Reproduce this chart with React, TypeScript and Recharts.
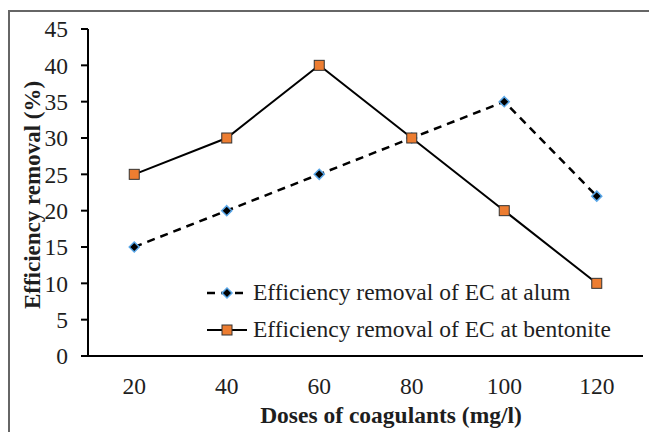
import { LineChart, Line, XAxis, YAxis, Legend, Label } from "recharts";

const doses = [20, 40, 60, 80, 100, 120];
const alum = [15, 20, 25, 30, 35, 22];
const bentonite = [25, 30, 40, 30, 20, 10];
const yTicks = [0, 5, 10, 15, 20, 25, 30, 35, 40, 45];
const bandEdges = [10, 30, 50, 70, 90, 110, 130];

const alumName = "Efficiency removal of EC at alum";
const bentoniteName = "Efficiency removal of EC at bentonite";

const data = doses.map((d, i) => ({ dose: d, alum: alum[i], bentonite: bentonite[i] }));

const FONT = "'Liberation Serif', 'Times New Roman', serif";
const TEXT = "#1e1e1e";

const Diamond = (props: any) => {
  const { cx, cy, index } = props;
  if (cx == null || cy == null) return <g key={`d-${index}`} />;
  const r = 5;
  return (
    <polygon
      key={`d-${index}`}
      points={`${cx},${cy - r} ${cx + r},${cy} ${cx},${cy + r} ${cx - r},${cy}`}
      fill="#000"
      stroke="#5aa7e8"
      strokeWidth={1.5}
    />
  );
};

const Square = (props: any) => {
  const { cx, cy, index } = props;
  if (cx == null || cy == null) return <g key={`s-${index}`} />;
  return (
    <rect
      key={`s-${index}`}
      x={cx - 5}
      y={cy - 5}
      width={10}
      height={10}
      fill="#ED7D31"
      stroke="#333"
      strokeWidth={1}
    />
  );
};

const renderLegend = () => (
  <div style={{ fontFamily: FONT, fontSize: 23.5, color: TEXT, lineHeight: "37px" }}>
    <div style={{ display: "flex", alignItems: "center" }}>
      <svg width={42} height={20}>
        <line x1={1} y1={10} x2={41} y2={10} stroke="#000" strokeWidth={2.5} strokeDasharray="8 6" />
        <polygon points="21,5 26,10 21,15 16,10" fill="#000" stroke="#5aa7e8" strokeWidth={1.5} />
      </svg>
      <span style={{ marginLeft: 5 }}>{alumName}</span>
    </div>
    <div style={{ display: "flex", alignItems: "center" }}>
      <svg width={42} height={20}>
        <line x1={1} y1={10} x2={41} y2={10} stroke="#000" strokeWidth={2} />
        <rect x={16} y={5} width={10} height={10} fill="#ED7D31" stroke="#333" strokeWidth={1} />
      </svg>
      <span style={{ marginLeft: 5 }}>{bentoniteName}</span>
    </div>
  </div>
);

export default function App() {
  return (
    <div style={{ position: "absolute", left: 0, top: 0, width: 649, height: 432, background: "#fff" }}>
      <div
        style={{
          position: "absolute",
          left: 8,
          top: 10,
          width: 641,
          height: 422,
          borderTop: "2px solid #666",
          borderLeft: "2px solid #666",
        }}
      />
      <LineChart
        width={649}
        height={432}
        data={data}
        margin={{ top: 29, right: 6, bottom: 0, left: 0 }}
        style={{ position: "absolute", left: 0, top: 0 }}
      >
        <XAxis
          xAxisId="edges"
          type="number"
          domain={[10, 130]}
          ticks={bandEdges}
          interval={0}
          height={1}
          tick={false}
          tickSize={7}
          axisLine={{ stroke: "#000", strokeWidth: 2 }}
          tickLine={{ stroke: "#000", strokeWidth: 2 }}
        />
        <XAxis
          xAxisId="main"
          dataKey="dose"
          type="number"
          domain={[10, 130]}
          ticks={doses}
          interval={0}
          height={75}
          tickLine={false}
          tickSize={0}
          tickMargin={20}
          axisLine={false}
          tick={{ fill: TEXT, fontSize: 23.5, fontFamily: FONT }}
        >
          <Label
            content={() => (
              <text
                x={391}
                y={423}
                textAnchor="middle"
                fontFamily={FONT}
                fontWeight="bold"
                fontSize={23.5}
                fill={TEXT}
              >
                Doses of coagulants (mg/l)
              </text>
            )}
          />
        </XAxis>
        <YAxis
          type="number"
          domain={[0, 45]}
          ticks={yTicks}
          interval={0}
          width={88}
          tickSize={7}
          tickMargin={13}
          axisLine={{ stroke: "#000", strokeWidth: 2 }}
          tickLine={{ stroke: "#000", strokeWidth: 2 }}
          tick={{ fill: TEXT, fontSize: 23.5, fontFamily: FONT }}
        >
          <Label
            content={() => (
              <text
                x={32}
                y={195}
                transform="rotate(-90, 32, 195)"
                textAnchor="middle"
                dominantBaseline="central"
                fontFamily={FONT}
                fontWeight="bold"
                fontSize={23}
                fill={TEXT}
              >
                Efficiency removal (%)
              </text>
            )}
          />
        </YAxis>
        <Legend
          layout="vertical"
          align="center"
          verticalAlign="middle"
          content={renderLegend}
          wrapperStyle={{ left: 206, top: 274, width: 440 }}
        />
        <Line
          xAxisId="main"
          dataKey="alum"
          name={alumName}
          stroke="#000"
          strokeWidth={2.5}
          strokeDasharray="8 6"
          dot={Diamond}
          activeDot={false}
          isAnimationActive={false}
        />
        <Line
          xAxisId="main"
          dataKey="bentonite"
          name={bentoniteName}
          stroke="#000"
          strokeWidth={2}
          dot={Square}
          activeDot={false}
          isAnimationActive={false}
        />
      </LineChart>
    </div>
  );
}
